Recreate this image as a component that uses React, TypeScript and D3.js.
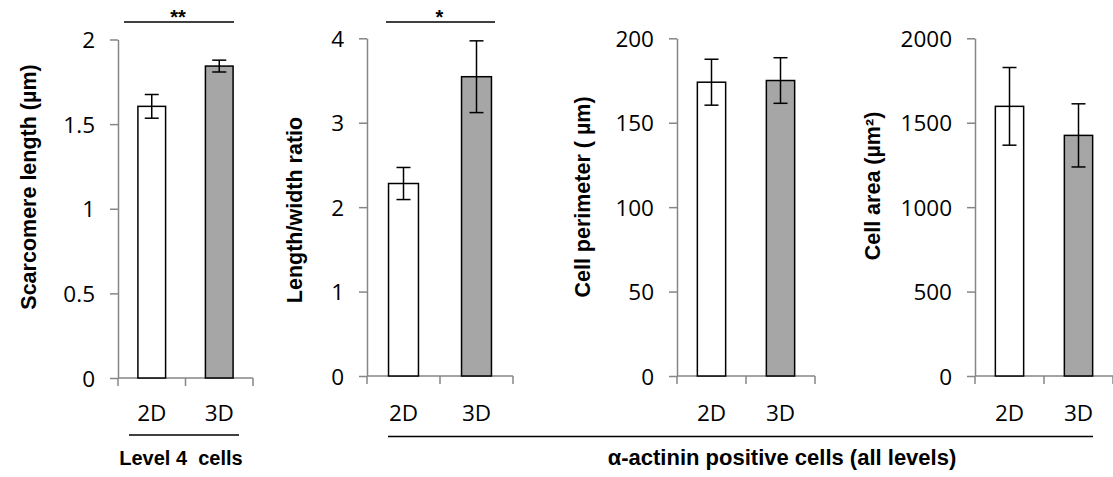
import React, { useEffect, useRef } from 'react';
import * as d3 from 'd3';

// data
const categories = ['2D', '3D'];

const sarcomereMean = [1.605, 1.843];
const sarcomereErr = [0.07, 0.035];
const sarcomereTicks = [0, 0.5, 1, 1.5, 2];

const ratioMean = [2.28, 3.545];
const ratioErr = [0.19, 0.425];
const ratioTicks = [0, 1, 2, 3, 4];

const perimeterMean = [174, 175];
const perimeterErr = [13.6, 13.5];
const perimeterTicks = [0, 50, 100, 150, 200];

const areaMean = [1597, 1425];
const areaErr = [230, 187];
const areaTicks = [0, 500, 1000, 1500, 2000];

const titles = ['Scarcomere length (µm)', 'Length/width ratio', 'Cell perimeter ( µm)', 'Cell area (µm²)'];
const significance = ['**', '*', '', ''];
const groupLabels = ['Level 4  cells', 'α-actinin positive cells (all levels)'];

const fills = ['#ffffff', '#a6a6a6'];
const axisColor = '#868686';
const tickFont = '"Open Sans", "DejaVu Sans", sans-serif';
const boldFont = '"Liberation Sans", Arial, sans-serif';

// layout of the four panels
const panels = [
  { mean: sarcomereMean, err: sarcomereErr, ticks: sarcomereTicks, x0: 118, x1: 253, yBottom: 378, yTop: 39.5, titleX: 28, titleY: 187, sig: [124, 234] },
  { mean: ratioMean, err: ratioErr, ticks: ratioTicks, x0: 367, x1: 513, yBottom: 376, yTop: 38.3, titleX: 294, titleY: 210, sig: [386, 495] },
  { mean: perimeterMean, err: perimeterErr, ticks: perimeterTicks, x0: 677, x1: 815, yBottom: 376, yTop: 38.3, titleX: 582, titleY: 197, sig: null },
  { mean: areaMean, err: areaErr, ticks: areaTicks, x0: 975, x1: 1113, yBottom: 376, yTop: 38.3, titleX: 872, titleY: 186, sig: null },
];

const groups = [
  { x0: 129, x1: 239, y: 435, labelX: 181, size: 20 },
  { x0: 388, x1: 1093, y: 436.5, labelX: 782, size: 22 },
];

export default function App() {
  const ref = useRef<SVGSVGElement>(null);

  useEffect(() => {
    const svg = d3.select(ref.current);
    svg.selectAll('*').remove();

    panels.forEach((p, i) => {
      const g = svg.append('g');
      const ticks = p.ticks;

      const y = d3.scaleLinear()
        .domain([ticks[0], ticks[ticks.length - 1]])
        .range([p.yBottom, p.yTop]);

      const x = d3.scaleBand()
        .domain(categories)
        .range([p.x0, p.x1])
        .paddingInner(0.59)
        .paddingOuter(0.295);

      // y axis
      const yAxis = g.append('g')
        .attr('transform', `translate(${p.x0},0)`)
        .call(d3.axisLeft(y).tickValues(ticks).tickFormat((d) => String(d)).tickSize(8).tickSizeOuter(0).tickPadding(15));
      yAxis.select('.domain').attr('stroke', axisColor).attr('stroke-width', 1.5);
      yAxis.selectAll('.tick line').attr('stroke', axisColor).attr('stroke-width', 1.5);
      yAxis.selectAll('.tick text')
        .attr('fill', '#000')
        .attr('font-family', tickFont)
        .attr('font-size', 22.5)
        .attr('dy', '0.36em');

      // x axis line with ticks between categories
      const xLine = d3.scaleLinear().domain([0, categories.length]).range([p.x0, p.x1]);
      g.append('line')
        .attr('x1', p.x0).attr('x2', p.x1)
        .attr('y1', p.yBottom).attr('y2', p.yBottom)
        .attr('stroke', axisColor).attr('stroke-width', 1.5);
      g.selectAll('line.xtick')
        .data(d3.range(categories.length + 1))
        .enter()
        .append('line')
          .attr('class', 'xtick')
          .attr('x1', (d) => xLine(d)).attr('x2', (d) => xLine(d))
          .attr('y1', p.yBottom).attr('y2', p.yBottom + 8)
          .attr('stroke', axisColor).attr('stroke-width', 1.5);

      g.selectAll('text.xlabel')
        .data(categories)
        .enter()
        .append('text')
          .attr('class', 'xlabel')
          .attr('x', (d) => (x(d) as number) + x.bandwidth() / 2)
          .attr('y', 421)
          .attr('text-anchor', 'middle')
          .attr('font-family', tickFont)
          .attr('font-size', 22.5)
          .text((d) => d);

      // bars
      g.selectAll('rect.bar')
        .data(categories)
        .enter()
        .append('rect')
          .attr('class', 'bar')
          .attr('x', (d) => x(d) as number)
          .attr('y', (d, j) => y(p.mean[j]))
          .attr('width', x.bandwidth())
          .attr('height', (d, j) => p.yBottom - y(p.mean[j]))
          .attr('fill', (d, j) => fills[j])
          .attr('stroke', '#000')
          .attr('stroke-width', 1.5);

      // error bars
      const cap = 7;
      categories.forEach((c, j) => {
        const cx = (x(c) as number) + x.bandwidth() / 2;
        const hi = y(p.mean[j] + p.err[j]);
        const lo = y(p.mean[j] - p.err[j]);
        const eg = g.append('g').attr('stroke', '#000').attr('stroke-width', 1.5);
        eg.append('line').attr('x1', cx).attr('x2', cx).attr('y1', hi).attr('y2', lo);
        eg.append('line').attr('x1', cx - cap).attr('x2', cx + cap).attr('y1', hi).attr('y2', hi);
        eg.append('line').attr('x1', cx - cap).attr('x2', cx + cap).attr('y1', lo).attr('y2', lo);
      });

      // y title
      g.append('text')
        .attr('transform', `translate(${p.titleX},${p.titleY}) rotate(-90)`)
        .attr('dy', '0.35em')
        .attr('text-anchor', 'middle')
        .attr('font-family', boldFont)
        .attr('font-weight', 'bold')
        .attr('font-size', 21.5)
        .text(titles[i]);

      // significance bracket
      if (p.sig) {
        g.append('line')
          .attr('x1', p.sig[0]).attr('x2', p.sig[1])
          .attr('y1', 22).attr('y2', 22)
          .attr('stroke', '#000').attr('stroke-width', 1.5);
        g.append('text')
          .attr('x', (p.sig[0] + p.sig[1]) / 2 - 1)
          .attr('y', 24)
          .attr('text-anchor', 'middle')
          .attr('font-family', boldFont)
          .attr('font-weight', 'bold')
          .attr('font-size', 20)
          .text(significance[i]);
      }
    });

    // group underlines and labels
    groups.forEach((gr, i) => {
      svg.append('line')
        .attr('x1', gr.x0).attr('x2', gr.x1)
        .attr('y1', gr.y).attr('y2', gr.y)
        .attr('stroke', '#000').attr('stroke-width', 1.5);
      svg.append('text')
        .attr('x', gr.labelX)
        .attr('y', 465)
        .attr('text-anchor', 'middle')
        .attr('font-family', boldFont)
        .attr('font-weight', 'bold')
        .attr('font-size', gr.size)
        .style('white-space', 'pre')
        .text(groupLabels[i]);
    });
  }, []);

  return (
    <svg
      ref={ref}
      width={1113}
      height={477}
      style={{ position: 'absolute', left: 0, top: 0, background: '#fff' }}
    />
  );
}
